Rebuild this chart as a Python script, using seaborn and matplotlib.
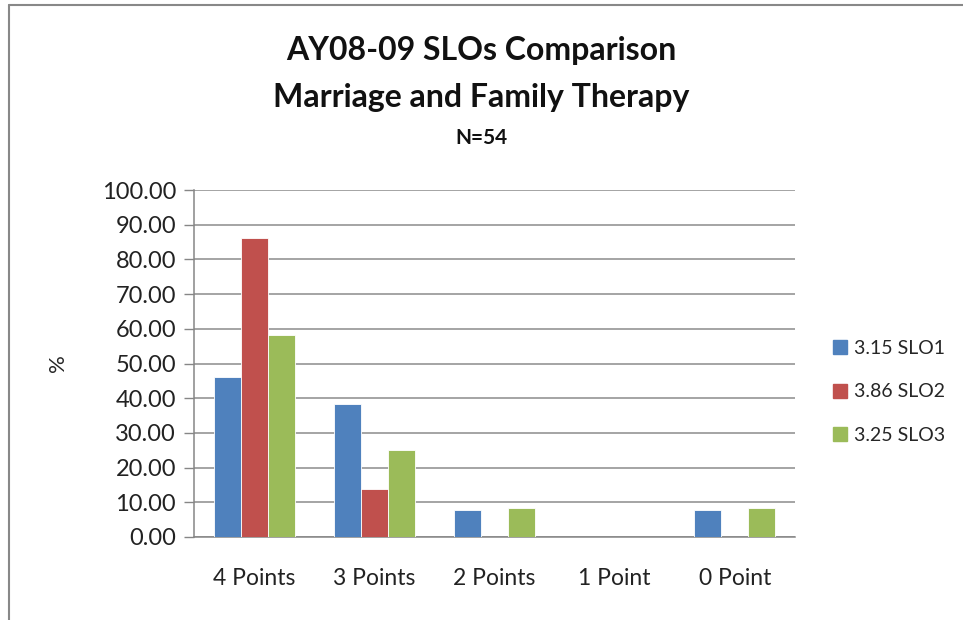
import numpy as np
import pandas as pd
import matplotlib
matplotlib.use("Agg")
import matplotlib.pyplot as plt
import seaborn as sns
from matplotlib.lines import Line2D

categories = ["4 Points", "3 Points", "2 Points", "1 Point", "0 Point"]
slo1 = [46.15, 38.46, 7.69, 0.0, 7.69]
slo2 = [86.11, 13.89, 0.0, 0.0, 0.0]
slo3 = [58.33, 25.00, 8.33, 0.0, 8.33]
series_names = ["3.15 SLO1", "3.86 SLO2", "3.25 SLO3"]
colors = ["#4F81BD", "#C0504D", "#9BBB59"]

df = pd.DataFrame({
    "category": categories * 3,
    "value": slo1 + slo2 + slo3,
    "series": np.repeat(series_names, len(categories)),
})

sns.set_style("white")
plt.rcParams["font.family"] = ["Lato", "DejaVu Sans"]

fig = plt.figure(figsize=(9.63, 6.2), dpi=100)
ax = fig.add_axes([0.2015, 0.1339, 0.624, 0.5596])

sns.barplot(data=df, x="category", y="value", hue="series", palette=colors,
            order=categories, hue_order=series_names, width=0.675, saturation=1,
            edgecolor="white", linewidth=0.6, ax=ax, zorder=3)

ax.set_ylim(0, 100)
ax.set_yticks(np.arange(0, 101, 10))
ax.set_yticklabels([f"{v:.2f}" for v in np.arange(0, 101, 10)], fontsize=17, color="#222222")
ax.set_xlim(-0.5, len(categories) - 0.5)
ax.tick_params(axis="x", labelsize=16.5, colors="#222222", length=0, pad=22)
ax.tick_params(axis="y", length=7, color="#868686", width=1, direction="out", left=True, pad=6)
ax.yaxis.grid(True, color="#8C8C8C", linewidth=1.1, zorder=0)
ax.set_axisbelow(True)
for side in ["top", "right"]:
    ax.spines[side].set_visible(False)
for side in ["left", "bottom"]:
    ax.spines[side].set_color("#868686")
    ax.spines[side].set_linewidth(1.1)
ax.set_xlabel("")
ax.set_ylabel("%", fontsize=16, labelpad=24)

handles = [Line2D([0], [0], marker="s", linestyle="", markersize=10,
                  markerfacecolor=c, markeredgecolor=c) for c in colors]
ax.legend(handles, series_names, loc="center left", bbox_to_anchor=(1.03, 0.418),
          frameon=False, fontsize=14, handletextpad=0.2, labelspacing=1.35,
          handlelength=1.0)

fig.text(0.5, 0.918, "AY08-09 SLOs Comparison", ha="center", va="center",
         fontsize=23, fontweight="bold", color="#111111")
fig.text(0.5, 0.843, "Marriage and Family Therapy", ha="center", va="center",
         fontsize=23, fontweight="bold", color="#111111")
fig.text(0.5, 0.778, "N=54", ha="center", va="center",
         fontsize=15, fontweight="bold", color="#111111")

# chart area border (left and top edges visible)
fig.add_artist(Line2D([0.009, 0.009], [0.0, 0.992], transform=fig.transFigure,
                      color="#888888", linewidth=1.5))
fig.add_artist(Line2D([0.009, 1.0], [0.992, 0.992], transform=fig.transFigure,
                      color="#888888", linewidth=1.5))

fig.savefig("out.png", dpi=100)
